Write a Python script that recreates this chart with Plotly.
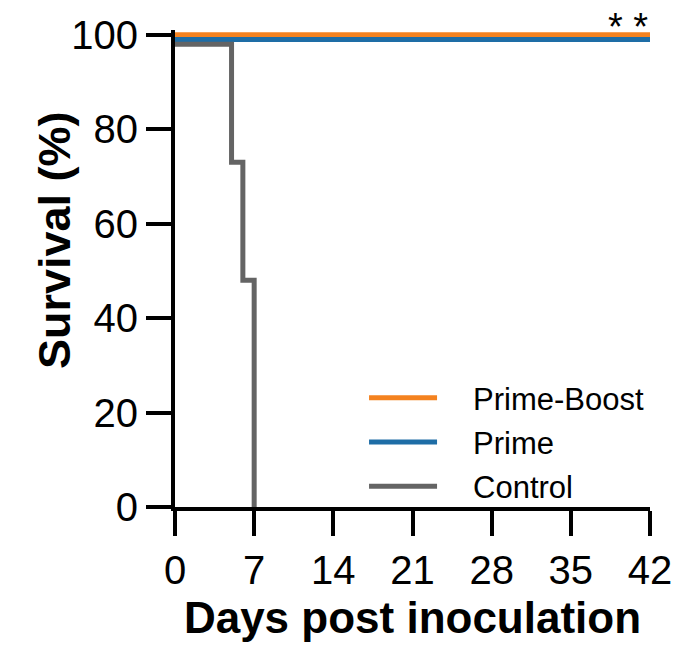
import plotly.graph_objects as go

# Data (Kaplan-Meier survival, %; curves slightly offset vertically for visibility)
days_pb = [0, 42]
surv_pb = [100, 100]
days_prime = [0, 42]
surv_prime = [99, 99]
days_ctrl = [0, 5, 6, 7, 7]
surv_ctrl = [98, 73, 48, 0, 0]

x_ticks = [0, 7, 14, 21, 28, 35, 42]
y_ticks = [0, 20, 40, 60, 80, 100]

ORANGE = "#F4821F"
BLUE = "#1E6DA6"
GRAY = "#646464"

font_family = "Liberation Sans, Arial, sans-serif"
SP = "\u2003"

fig = go.Figure()
fig.add_trace(go.Scatter(x=days_pb, y=surv_pb, mode="lines", name=SP + "Prime-Boost",
                         legendgroup="a", line=dict(color=ORANGE, width=5, shape="hv")))
fig.add_trace(go.Scatter(x=days_prime, y=surv_prime, mode="lines", name=SP + "Prime",
                         legendgroup="b", line=dict(color=BLUE, width=5, shape="hv")))
fig.add_trace(go.Scatter(x=days_ctrl, y=surv_ctrl, mode="lines", name=SP + "Control",
                         legendgroup="c", line=dict(color=GRAY, width=5, shape="hv")))

fig.update_layout(
    width=697, height=646,
    margin=dict(l=175, r=47, t=30, b=139),
    paper_bgcolor="white", plot_bgcolor="white",
    font=dict(family=font_family, color="black"),
    showlegend=True,
    legend=dict(x=0.398, y=0.285, xanchor="left", yanchor="top",
                font=dict(size=31, family=font_family, color="black"),
                bgcolor="rgba(0,0,0,0)", itemwidth=68, tracegroupgap=1),
    annotations=[
        dict(x=42, y=100, xref="x", yref="y", text="* *", showarrow=False,
             xanchor="right", yanchor="middle", yshift=8,
             font=dict(size=38, family=font_family, color="black")),
        dict(x=-0.2547, y=0.5597, xref="paper", yref="paper", text="<b>Survival (%)</b>",
             showarrow=False, textangle=-90, xanchor="center", yanchor="middle",
             font=dict(size=45, family=font_family, color="black")),
    ],
)
fig.update_xaxes(range=[0, 42], tickvals=x_ticks, ticktext=[str(t) for t in x_ticks],
                 showline=True, linecolor="black", linewidth=4,
                 ticks="outside", ticklen=25, tickwidth=4, tickcolor="black",
                 showgrid=False, zeroline=False,
                 tickfont=dict(size=40, family=font_family, color="black"),
                 title=dict(text="<b>Days post inoculation</b>",
                            font=dict(size=44, family=font_family, color="black"), standoff=12))
fig.update_yaxes(range=[0, 101], tickvals=y_ticks, ticktext=[str(t) for t in y_ticks],
                 showline=True, linecolor="black", linewidth=4,
                 ticks="outside", ticklen=25, tickwidth=4, tickcolor="black",
                 showgrid=False, zeroline=False,
                 tickfont=dict(size=40, family=font_family, color="black"))

fig.write_html("out.html")
